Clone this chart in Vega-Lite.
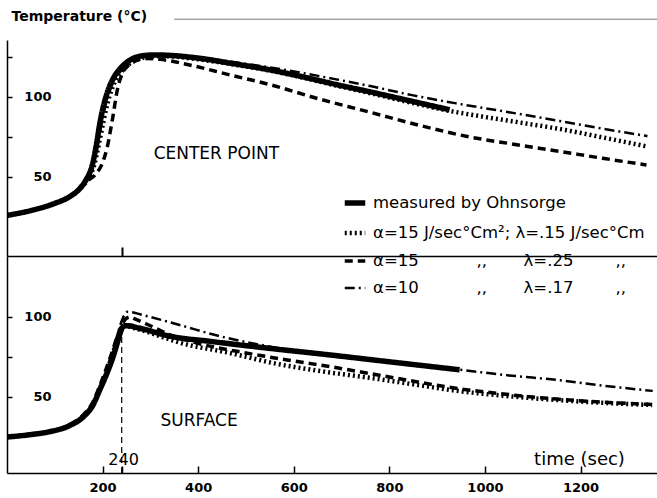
{
  "$schema": "https://vega.github.io/schema/vega-lite/v6.json",
  "background": "white",
  "padding": {"left": 6, "top": 9, "right": 0, "bottom": 0},
  "bounds": "flush",
  "spacing": 0,
  "config": {
    "view": {"stroke": null},
    "axis": {"grid": false, "domainColor": "black", "domainWidth": 1.5, "tickColor": "black", "tickWidth": 1.5, "labelColor": "black", "labelFont": "DejaVu Sans", "labelFontSize": 13, "labelFontWeight": "bold", "titleColor": "black", "titleFont": "DejaVu Sans"},
    "text": {"font": "DejaVu Sans", "color": "black"}
  },
  "resolve": {"scale": {"strokeDash": "independent", "strokeWidth": "independent", "y": "independent"}, "legend": {"strokeDash": "independent", "strokeWidth": "independent"}},
  "datasets": {
    "center": [
      {"s":"m","t":0,"v":26},{"s":"m","t":50,"v":29},{"s":"m","t":100,"v":33.5},{"s":"m","t":130,"v":37.5},{"s":"m","t":150,"v":42},{"s":"m","t":165,"v":48},{"s":"m","t":178,"v":57},{"s":"m","t":187,"v":70},{"s":"m","t":194,"v":83},{"s":"m","t":200,"v":92},{"s":"m","t":208,"v":101},{"s":"m","t":215,"v":107},{"s":"m","t":225,"v":113},{"s":"m","t":236,"v":117.5},{"s":"m","t":250,"v":121.5},{"s":"m","t":263,"v":124},{"s":"m","t":285,"v":125.8},{"s":"m","t":310,"v":126.3},{"s":"m","t":340,"v":126},{"s":"m","t":400,"v":124.3},{"s":"m","t":470,"v":121},{"s":"m","t":549,"v":117},{"s":"m","t":620,"v":112.5},{"s":"m","t":690,"v":107.7},{"s":"m","t":758,"v":103.3},{"s":"m","t":840,"v":97.8},{"s":"m","t":926,"v":92},
      {"s":"a","t":0,"v":26},{"s":"a","t":50,"v":29},{"s":"a","t":100,"v":33.5},{"s":"a","t":130,"v":37.5},{"s":"a","t":150,"v":42},{"s":"a","t":168,"v":48},{"s":"a","t":182,"v":57},{"s":"a","t":192,"v":70},{"s":"a","t":200,"v":82},{"s":"a","t":207,"v":92},{"s":"a","t":215,"v":101},{"s":"a","t":225,"v":109},{"s":"a","t":240,"v":116},{"s":"a","t":255,"v":120.5},{"s":"a","t":270,"v":123},{"s":"a","t":295,"v":125},{"s":"a","t":330,"v":125.5},{"s":"a","t":400,"v":123.5},{"s":"a","t":470,"v":120.5},{"s":"a","t":549,"v":116.5},{"s":"a","t":620,"v":112},{"s":"a","t":690,"v":107},{"s":"a","t":758,"v":102.5},{"s":"a","t":840,"v":96.8},{"s":"a","t":926,"v":91.3},{"s":"a","t":1000,"v":87.5},{"s":"a","t":1080,"v":83.7},{"s":"a","t":1156,"v":80},{"s":"a","t":1250,"v":74.5},{"s":"a","t":1340,"v":69},
      {"s":"b","t":0,"v":26},{"s":"b","t":50,"v":29},{"s":"b","t":100,"v":33.5},{"s":"b","t":130,"v":37.5},{"s":"b","t":150,"v":42},{"s":"b","t":166,"v":47},{"s":"b","t":185,"v":51.5},{"s":"b","t":200,"v":59},{"s":"b","t":210,"v":69},{"s":"b","t":220,"v":85},{"s":"b","t":232,"v":106},{"s":"b","t":242,"v":115},{"s":"b","t":255,"v":120},{"s":"b","t":270,"v":122.7},{"s":"b","t":290,"v":124},{"s":"b","t":320,"v":123.5},{"s":"b","t":382,"v":120},{"s":"b","t":466,"v":113.8},{"s":"b","t":553,"v":107.5},{"s":"b","t":650,"v":99},{"s":"b","t":759,"v":90.5},{"s":"b","t":860,"v":82.5},{"s":"b","t":968,"v":75},{"s":"b","t":1060,"v":70.5},{"s":"b","t":1156,"v":66},{"s":"b","t":1250,"v":61.5},{"s":"b","t":1338,"v":57.5},
      {"s":"c","t":0,"v":26},{"s":"c","t":50,"v":29},{"s":"c","t":100,"v":33.5},{"s":"c","t":130,"v":37.5},{"s":"c","t":150,"v":42},{"s":"c","t":167,"v":48},{"s":"c","t":180,"v":57},{"s":"c","t":190,"v":70},{"s":"c","t":197,"v":82},{"s":"c","t":204,"v":92},{"s":"c","t":212,"v":101},{"s":"c","t":222,"v":109},{"s":"c","t":236,"v":115.5},{"s":"c","t":250,"v":120},{"s":"c","t":268,"v":123.5},{"s":"c","t":295,"v":125.5},{"s":"c","t":330,"v":126},{"s":"c","t":400,"v":124.8},{"s":"c","t":470,"v":122},{"s":"c","t":549,"v":118.5},{"s":"c","t":618,"v":115},{"s":"c","t":689,"v":111},{"s":"c","t":760,"v":106.8},{"s":"c","t":850,"v":101},{"s":"c","t":940,"v":96},{"s":"c","t":1050,"v":90.5},{"s":"c","t":1156,"v":85},{"s":"c","t":1250,"v":80},{"s":"c","t":1340,"v":75.5}
    ],
    "surface": [
      {"s":"m","t":0,"v":25},{"s":"m","t":50,"v":26.5},{"s":"m","t":89,"v":28.3},{"s":"m","t":130,"v":32},{"s":"m","t":160,"v":37.7},{"s":"m","t":180,"v":45},{"s":"m","t":194,"v":54.4},{"s":"m","t":208,"v":64},{"s":"m","t":222,"v":75.2},{"s":"m","t":232,"v":85},{"s":"m","t":239,"v":91.9},{"s":"m","t":246,"v":94.5},{"s":"m","t":255,"v":94.5},{"s":"m","t":270,"v":93.5},{"s":"m","t":291,"v":92},{"s":"m","t":333,"v":88.5},{"s":"m","t":430,"v":84.6},{"s":"m","t":549,"v":80.4},{"s":"m","t":675,"v":76.3},{"s":"m","t":800,"v":72},{"s":"m","t":947,"v":67},
      {"s":"a","t":0,"v":25},{"s":"a","t":50,"v":26.5},{"s":"a","t":89,"v":28.3},{"s":"a","t":130,"v":32},{"s":"a","t":160,"v":38},{"s":"a","t":180,"v":45.5},{"s":"a","t":194,"v":55},{"s":"a","t":208,"v":65},{"s":"a","t":222,"v":76},{"s":"a","t":232,"v":86},{"s":"a","t":240,"v":92.5},{"s":"a","t":248,"v":94.5},{"s":"a","t":260,"v":93.5},{"s":"a","t":290,"v":91},{"s":"a","t":330,"v":87},{"s":"a","t":361,"v":84},{"s":"a","t":466,"v":77.5},{"s":"a","t":560,"v":71},{"s":"a","t":660,"v":66},{"s":"a","t":758,"v":62},{"s":"a","t":860,"v":57.5},{"s":"a","t":950,"v":53.5},{"s":"a","t":1050,"v":50.5},{"s":"a","t":1156,"v":48},{"s":"a","t":1250,"v":46.3},{"s":"a","t":1350,"v":45},
      {"s":"b","t":0,"v":25},{"s":"b","t":50,"v":26.5},{"s":"b","t":89,"v":28.5},{"s":"b","t":130,"v":32.5},{"s":"b","t":160,"v":39},{"s":"b","t":180,"v":47},{"s":"b","t":194,"v":57},{"s":"b","t":208,"v":68},{"s":"b","t":222,"v":80},{"s":"b","t":232,"v":89},{"s":"b","t":242,"v":96},{"s":"b","t":250,"v":99.2},{"s":"b","t":258,"v":100},{"s":"b","t":270,"v":98.5},{"s":"b","t":300,"v":94.5},{"s":"b","t":340,"v":89},{"s":"b","t":400,"v":83.5},{"s":"b","t":500,"v":77.5},{"s":"b","t":600,"v":72.5},{"s":"b","t":675,"v":69},{"s":"b","t":800,"v":62.5},{"s":"b","t":950,"v":55},{"s":"b","t":1050,"v":51.5},{"s":"b","t":1150,"v":48.7},{"s":"b","t":1250,"v":46.7},{"s":"b","t":1350,"v":45.3},
      {"s":"c","t":0,"v":25},{"s":"c","t":50,"v":26.5},{"s":"c","t":89,"v":28.3},{"s":"c","t":130,"v":32},{"s":"c","t":160,"v":38},{"s":"c","t":180,"v":45.5},{"s":"c","t":194,"v":55.5},{"s":"c","t":208,"v":67},{"s":"c","t":222,"v":80},{"s":"c","t":232,"v":90},{"s":"c","t":240,"v":97.5},{"s":"c","t":246,"v":101.5},{"s":"c","t":252,"v":103.2},{"s":"c","t":262,"v":103},{"s":"c","t":280,"v":101.5},{"s":"c","t":300,"v":100},{"s":"c","t":361,"v":95},{"s":"c","t":445,"v":88},{"s":"c","t":570,"v":80.5},{"s":"c","t":700,"v":75},{"s":"c","t":820,"v":71},{"s":"c","t":947,"v":67},{"s":"c","t":1050,"v":63.5},{"s":"c","t":1156,"v":60.5},{"s":"c","t":1250,"v":57},{"s":"c","t":1351,"v":53.8}
    ]
  },
  "vconcat": [
    {
      "width": 650,
      "height": 216,
      "layer": [
        {
          "data": {"name": "center"},
          "mark": {"type": "line", "color": "black", "interpolate": "monotone", "clip": true, "strokeJoin": "round"},
          "encoding": {
            "x": {"field": "t", "type": "quantitative", "scale": {"domain": [0, 1360], "nice": false}, "axis": {"values": [240], "labels": false, "tickSize": -9, "tickWidth": 2, "title": null}},
            "y": {"field": "v", "type": "quantitative", "scale": {"domain": [0.6, 135.6], "nice": false}, "axis": {"values": [50, 75, 100, 125], "labelExpr": "datum.value==75||datum.value==125?'':datum.label", "tickSize": -5, "labelPadding": -39, "labelBaseline": "middle", "title": "Temperature (°C)", "titleAngle": 0, "titleX": 4, "titleY": -23.5, "titleAlign": "left", "titleBaseline": "middle", "titleFontSize": 14, "titleFontWeight": "bold"}},
            "strokeDash": {"field": "s", "type": "ordinal", "scale": {"domain": ["m", "a", "b", "c"], "range": [[1, 0], [2, 3], [8, 5], [10, 4, 2, 4]]}, "legend": {"orient": "none", "legendX": 335, "legendY": 150, "title": null, "symbolType": "stroke", "symbolSize": 420, "symbolStrokeColor": "black", "labelFont": "DejaVu Sans", "labelFontSize": 16.5, "labelColor": "black", "rowPadding": 6.5, "labelOffset": 5, "padding": 0, "labelLimit": 400, "labelExpr": "datum.value=='m'?'measured by Ohnsorge':datum.value=='a'?'α=15 J/sec°Cm²; λ=.15 J/sec°Cm':datum.value=='b'?'α=15\u00a0\u00a0\u00a0\u00a0\u00a0\u00a0\u00a0\u00a0\u00a0\u00a0\u00a0,,\u00a0\u00a0\u00a0\u00a0\u00a0\u00a0\u00a0λ=.25\u00a0\u00a0\u00a0\u00a0\u00a0\u00a0\u00a0\u00a0,,':'α=10\u00a0\u00a0\u00a0\u00a0\u00a0\u00a0\u00a0\u00a0\u00a0\u00a0\u00a0,,\u00a0\u00a0\u00a0\u00a0\u00a0\u00a0\u00a0λ=.17\u00a0\u00a0\u00a0\u00a0\u00a0\u00a0\u00a0\u00a0,,'"}},
            "strokeWidth": {"field": "s", "type": "ordinal", "scale": {"domain": ["m", "a", "b", "c"], "range": [5.5, 2.5, 1.5, 1.3]}, "legend": {"orient": "none", "legendX": 335, "legendY": 150, "title": null, "symbolType": "stroke", "symbolSize": 420, "symbolStrokeColor": "black", "labelFont": "DejaVu Sans", "labelFontSize": 16.5, "labelColor": "black", "rowPadding": 6.5, "labelOffset": 5, "padding": 0, "labelLimit": 400, "labelExpr": "datum.value=='m'?'measured by Ohnsorge':datum.value=='a'?'α=15 J/sec°Cm²; λ=.15 J/sec°Cm':datum.value=='b'?'α=15\u00a0\u00a0\u00a0\u00a0\u00a0\u00a0\u00a0\u00a0\u00a0\u00a0\u00a0,,\u00a0\u00a0\u00a0\u00a0\u00a0\u00a0\u00a0λ=.25\u00a0\u00a0\u00a0\u00a0\u00a0\u00a0\u00a0\u00a0,,':'α=10\u00a0\u00a0\u00a0\u00a0\u00a0\u00a0\u00a0\u00a0\u00a0\u00a0\u00a0,,\u00a0\u00a0\u00a0\u00a0\u00a0\u00a0\u00a0λ=.17\u00a0\u00a0\u00a0\u00a0\u00a0\u00a0\u00a0\u00a0,,'"}},
            "order": {"field": "t", "type": "quantitative"}
          }
        },
        {
          "data": {"values": [{}]},
          "mark": {"type": "text", "text": "CENTER POINT", "fontSize": 17, "align": "center", "baseline": "middle"},
          "encoding": {"x": {"datum": 438}, "y": {"datum": 64.4}}
        },
        {
          "data": {"values": [{}]},
          "mark": {"type": "rule", "color": "#777", "strokeWidth": 1},
          "encoding": {"x": {"datum": 350}, "x2": {"datum": 1360}, "y": {"datum": 148.6}}
        }
      ]
    },
    {
      "width": 650,
      "height": 217,
      "layer": [
        {
          "data": {"name": "surface"},
          "mark": {"type": "line", "color": "black", "interpolate": "monotone", "clip": true, "strokeJoin": "round"},
          "encoding": {
            "x": {"field": "t", "type": "quantitative", "scale": {"domain": [0, 1360], "nice": false}, "axis": {"values": [200, 240, 400, 600, 800, 1000, 1200], "format": "d", "labelExpr": "datum.value==240?'':datum.label", "tickSize": -7, "labelPadding": 15, "title": "time (sec)", "titleX": 572, "titleY": -9, "titleAlign": "center", "titleBaseline": "alphabetic", "titleFontSize": 18, "titleFontWeight": "normal"}},
            "y": {"field": "v", "type": "quantitative", "scale": {"domain": [2.5, 138.1], "nice": false}, "axis": {"values": [50, 75, 100], "labelExpr": "datum.value==75?'':datum.label", "tickSize": -5, "labelPadding": -39, "labelBaseline": "middle", "title": null}},
            "strokeDash": {"field": "s", "type": "ordinal", "scale": {"domain": ["m", "a", "b", "c"], "range": [[1, 0], [2, 3], [8, 5], [10, 4, 2, 4]]}, "legend": null},
            "strokeWidth": {"field": "s", "type": "ordinal", "scale": {"domain": ["m", "a", "b", "c"], "range": [5.5, 2.5, 1.5, 1.3]}, "legend": null},
            "order": {"field": "t", "type": "quantitative"}
          }
        },
        {
          "data": {"values": [{}]},
          "mark": {"type": "rule", "color": "black", "strokeWidth": 1.2, "strokeDash": [6, 4]},
          "encoding": {"x": {"datum": 240}, "y": {"datum": 2.5}, "y2": {"datum": 93}}
        },
        {
          "data": {"values": [{}]},
          "mark": {"type": "text", "text": "SURFACE", "fontSize": 17, "align": "center", "baseline": "middle"},
          "encoding": {"x": {"datum": 402}, "y": {"datum": 35.3}}
        },
        {
          "data": {"values": [{}]},
          "mark": {"type": "text", "text": "240", "fontSize": 16, "align": "center", "baseline": "middle"},
          "encoding": {"x": {"datum": 244}, "y": {"datum": 10.6}}
        }
      ]
    }
  ]
}
